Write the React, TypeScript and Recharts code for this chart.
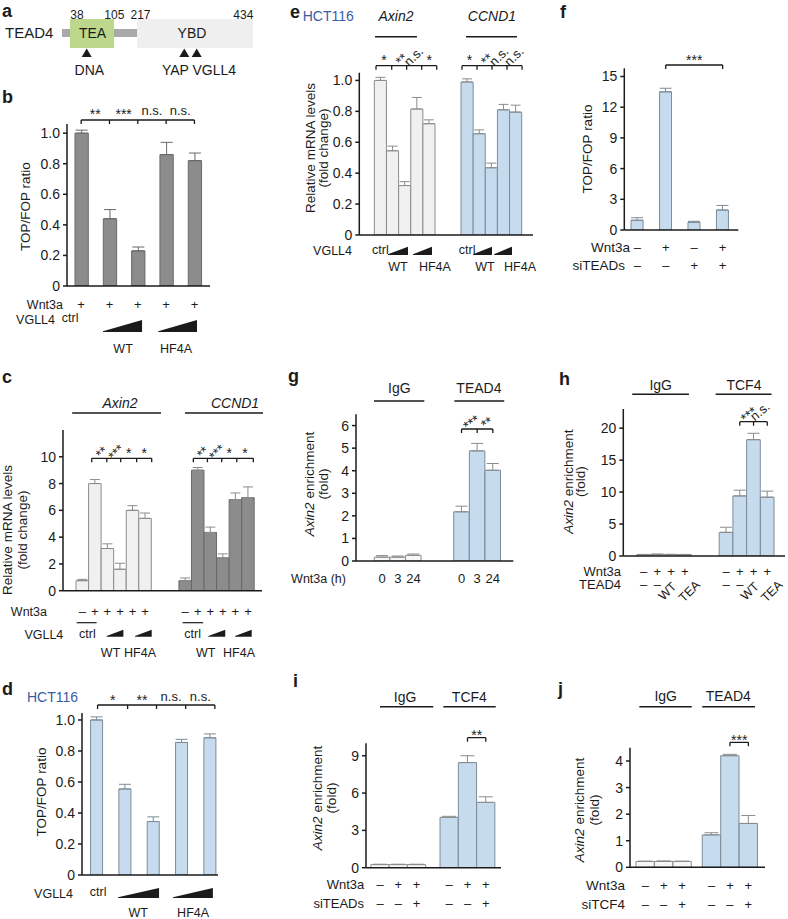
import React from 'react';
import { BarChart, Bar, XAxis, YAxis, ErrorBar, Cell } from 'recharts';

const W = 788;
const H = 919;
const FONT = "'Liberation Sans', Arial, Helvetica, sans-serif";
const INK = '#1b1b1b';
const HCT = '#3b5ba5';
const TICK_FS = 14;
const LAB_FS = 13.5;
const ROW_FS = 12.5;
const HEAD_FS = 14;

// ---------------- data ----------------
// a
const aResidues = ['38', '105', '217', '434'];
const aDomains = ['TEA', 'YBD'];
// b
const bValues = [1.0, 0.44, 0.23, 0.86, 0.82];
const bErrors = [0.02, 0.06, 0.025, 0.08, 0.05];
const bWnt3a = ['+', '+', '+', '+', '+'];
const bSig = ['**', '***', 'n.s.', 'n.s.'];
// c
const cAxin2 = [0.75, 8.0, 3.15, 1.6, 6.0, 5.4];
const cAxin2Err = [0.1, 0.3, 0.35, 0.45, 0.35, 0.4];
const cCcnd1 = [0.75, 9.0, 4.35, 2.45, 6.8, 6.95];
const cCcnd1Err = [0.2, 0.2, 0.4, 0.3, 0.5, 0.8];
const cWnt3a = ['–', '+', '+', '+', '+', '+'];
const cSig = ['**', '***', '*', '*'];
// d
const dValues = [1.0, 0.555, 0.345, 0.855, 0.885];
const dErrors = [0.02, 0.03, 0.03, 0.02, 0.025];
const dSig = ['*', '**', 'n.s.', 'n.s.'];
// e
const eAxin2 = [1.0, 0.545, 0.32, 0.815, 0.72];
const eAxin2Err = [0.02, 0.03, 0.025, 0.075, 0.025];
const eCcnd1 = [0.99, 0.655, 0.435, 0.81, 0.795];
const eCcnd1Err = [0.02, 0.025, 0.03, 0.035, 0.045];
const eAxin2Sig = ['*', '**', 'n.s.', '*'];
const eCcnd1Sig = ['*', '**', 'n.s.', 'n.s.'];
// f
const fValues = [0.95, 13.5, 0.75, 1.95];
const fErrors = [0.25, 0.35, 0.1, 0.45];
const fWnt3a = ['–', '+', '–', '+'];
const fSiTEADs = ['–', '–', '+', '+'];
const fSig = ['***'];
// g
const gIgG = [0.17, 0.17, 0.25];
const gIgGErr = [0.07, 0.05, 0.06];
const gTEAD4 = [2.18, 4.88, 4.02];
const gTEAD4Err = [0.25, 0.33, 0.3];
const gHours = ['0', '3', '24'];
const gSig = ['***', '**'];
// h
const hIgG = [0.2, 0.25, 0.22, 0.2];
const hIgGErr = [0.05, 0.05, 0.05, 0.05];
const hTCF4 = [3.7, 9.4, 18.2, 9.2];
const hTCF4Err = [0.8, 0.9, 1.0, 0.95];
const hWnt3a = ['–', '+', '+', '+'];
const hTEAD4 = ['–', '–', 'WT', 'TEA'];
const hSig = ['***', 'n.s.'];
// i
const iIgG = [0.25, 0.25, 0.25];
const iIgGErr = [0.03, 0.03, 0.03];
const iTCF4 = [4.05, 8.45, 5.25];
const iTCF4Err = [0.08, 0.55, 0.45];
const iWnt3a = ['–', '+', '+'];
const iSiTEADs = ['–', '–', '+'];
const iSig = ['**'];
// j
const jIgG = [0.22, 0.22, 0.22];
const jIgGErr = [0.01, 0.02, 0.01];
const jTEAD4 = [1.22, 4.2, 1.65];
const jTEAD4Err = [0.08, 0.05, 0.3];
const jWnt3a = ['–', '+', '+'];
const jSiTCF4 = ['–', '–', '+'];
const jSig = ['***'];

const ratioTicks = [0, 0.2, 0.4, 0.6, 0.8, 1.0];
const f1 = (v: number) => (v === 0 ? '0' : v.toFixed(1));

// ---------------- styles ----------------
type Look = { fill: string; stroke: string; err: string };
const DARK: Look = { fill: '#8c8c8c', stroke: '#696969', err: '#696969' };
const LIGHT: Look = { fill: '#f0f0f0', stroke: '#8c8c8c', err: '#8c8c8c' };
const BLUE: Look = { fill: '#c6dcee', stroke: '#7e8b96', err: '#7e8b96' };
const WHITE: Look = { fill: '#f7f7f7', stroke: '#8c8c8c', err: '#8c8c8c' };

type Group = { values: number[]; errors: number[]; start: number; look: Look };
type Spec = {
  x0: number; x1: number; y0: number; yTop: number;
  xDom: [number, number]; yMax: number; yTicks: number[];
  fmt?: (v: number) => string; xTicks: number[]; barSize: number; capW: number;
  groups: Group[];
};

const specB: Spec = { x0: 67, x1: 210, y0: 286, yTop: 124, xDom: [0.5, 5.55], yMax: 1.06, yTicks: ratioTicks, fmt: f1, xTicks: [1.5, 2.5, 3.5, 4.5], barSize: 13.3, capW: 6,
  groups: [{ values: bValues, errors: bErrors, start: 1, look: DARK }] };
const specC: Spec = { x0: 63, x1: 262, y0: 590.7, yTop: 430, xDom: [-0.54, 15.32], yMax: 12, yTicks: [0, 2, 4, 6, 8, 10], xTicks: [7.6], barSize: 12.5, capW: 5,
  groups: [{ values: cAxin2, errors: cAxin2Err, start: 1, look: LIGHT }, { values: cCcnd1, errors: cCcnd1Err, start: 9.2, look: DARK }] };
const specD: Spec = { x0: 82, x1: 218, y0: 875, yTop: 713, xDom: [0.48, 5.28], yMax: 1.045, yTicks: ratioTicks, fmt: f1, xTicks: [1.5, 2.5, 3.5, 4.5], barSize: 12, capW: 6,
  groups: [{ values: dValues, errors: dErrors, start: 1, look: BLUE }] };
const specE: Spec = { x0: 359.3, x1: 533, y0: 235, yTop: 72.7, xDom: [-0.74, 13.57], yMax: 1.05, yTicks: ratioTicks, fmt: f1, xTicks: [6.6], barSize: 12.1, capW: 5,
  groups: [{ values: eAxin2, errors: eAxin2Err, start: 1, look: LIGHT }, { values: eCcnd1, errors: eCcnd1Err, start: 8.14, look: BLUE }] };
const specF: Spec = { x0: 624.3, x1: 738.3, y0: 230, yTop: 68.3, xDom: [0.543, 4.55], yMax: 15.8, yTicks: [0, 3, 6, 9, 12, 15], xTicks: [1.5, 2.5, 3.5], barSize: 12, capW: 6,
  groups: [{ values: fValues, errors: fErrors, start: 1, look: BLUE }] };
const specG: Spec = { x0: 356, x1: 513.3, y0: 561, yTop: 414.3, xDom: [-0.67, 9.39], yMax: 6.5, yTicks: [0, 1, 2, 3, 4, 5, 6], xTicks: [4.54], barSize: 15.5, capW: 6,
  groups: [{ values: gIgG, errors: gIgGErr, start: 1, look: WHITE }, { values: gTEAD4, errors: gTEAD4Err, start: 6.08, look: BLUE }] };
const specH: Spec = { x0: 623.3, x1: 785, y0: 556, yTop: 409, xDom: [-0.48, 11.29], yMax: 23, yTicks: [0, 5, 10, 15, 20], xTicks: [5.5], barSize: 13.6, capW: 6,
  groups: [{ values: hIgG, errors: hIgGErr, start: 1, look: WHITE }, { values: hTCF4, errors: hTCF4Err, start: 7, look: BLUE }] };
const specI: Spec = { x0: 366, x1: 501, y0: 867.7, yTop: 743.3, xDom: [0.235, 7.61], yMax: 10, yTicks: [0, 3, 6, 9], xTicks: [3.89], barSize: 18.2, capW: 7,
  groups: [{ values: iIgG, errors: iIgGErr, start: 1, look: WHITE }, { values: iTCF4, errors: iTCF4Err, start: 4.78, look: BLUE }] };
const specJ: Spec = { x0: 630, x1: 765, y0: 867.3, yTop: 747.7, xDom: [0.174, 7.49], yMax: 4.5, yTicks: [0, 1, 2, 3, 4], xTicks: [3.8], barSize: 18.3, capW: 7,
  groups: [{ values: jIgG, errors: jIgGErr, start: 1, look: WHITE }, { values: jTEAD4, errors: jTEAD4Err, start: 4.59, look: BLUE }] };

const mapper = (s: Spec) => ({
  px: (x: number) => s.x0 + ((x - s.xDom[0]) / (s.xDom[1] - s.xDom[0])) * (s.x1 - s.x0),
  py: (v: number) => s.y0 - (v / s.yMax) * (s.y0 - s.yTop),
});
type M = ReturnType<typeof mapper>;

function Chart({ s }: { s: Spec }) {
  const data = s.groups.flatMap((g) =>
    g.values.map((v, i) => ({ x: g.start + i, v, e: [0, g.errors[i]], look: g.look }))
  );
  const yw = 44;
  const xh = 10;
  const margin = { top: s.yTop, right: W - s.x1, bottom: H - s.y0 - xh, left: s.x0 - yw };
  const axisStyle = { stroke: INK, strokeWidth: 1.5 };
  return (
    <div style={{ position: 'absolute', left: 0, top: 0, width: W, height: H }}>
      <BarChart width={W} height={H} data={data} margin={margin} barGap={0}>
        <XAxis type="number" dataKey="x" domain={s.xDom} allowDataOverflow ticks={s.xTicks} interval={0}
          tick={false} tickSize={4} height={xh} axisLine={axisStyle} tickLine={axisStyle} />
        <YAxis type="number" domain={[0, s.yMax]} allowDataOverflow ticks={s.yTicks} interval={0} width={yw}
          tickSize={4} tickMargin={3} tickFormatter={s.fmt}
          tick={{ fontSize: TICK_FS, fill: INK, fontFamily: FONT }} axisLine={axisStyle} tickLine={axisStyle} />
        <Bar dataKey="v" barSize={s.barSize} isAnimationActive={false}>
          {data.map((d, i) => (
            <Cell key={i} fill={d.look.fill} stroke={d.look.stroke} strokeWidth={1} />
          ))}
          <ErrorBar dataKey="e" width={s.capW} stroke={s.groups[0].look.err} strokeWidth={1} direction="y" />
        </Bar>
      </BarChart>
    </div>
  );
}

// ---------------- annotation helpers ----------------
function Txt({ x, y, s, size = ROW_FS, anchor = 'middle', italic = false, bold = false, fill = INK, rot = 0, dy, children }: any) {
  const content = children ?? s;
  let d = dy;
  if (d === undefined) {
    const str = typeof content === 'string' ? content : '';
    d = /^\*+$/.test(str) ? 0.6 : /^[a-z.]+$/.test(str) ? 0.27 : 0.36;
  }
  return (
    <text transform={`translate(${x} ${y}) rotate(${rot})`} dy={d * size} textAnchor={anchor} fontSize={size}
      fontFamily={FONT} fontStyle={italic ? 'italic' : 'normal'} fontWeight={bold ? 'bold' : 'normal'} fill={fill}>
      {content}
    </text>
  );
}

function Letter({ x, y, s }: { x: number; y: number; s: string }) {
  return <Txt x={x} y={y} s={s} size={18} bold anchor="start" dy={0} />;
}

function Bracket({ m, xs, y, drop = 4 }: { m: M; xs: number[]; y: number; drop?: number }) {
  const d = `M${m.px(xs[0])},${y}H${m.px(xs[xs.length - 1])}` + xs.map((x) => `M${m.px(x)},${y}V${y + drop}`).join('');
  return <path d={d} stroke={INK} strokeWidth={1.3} fill="none" />;
}

function Wedge({ m, a, b, yb, h }: { m: M; a: number; b: number; yb: number; h: number }) {
  const x0 = m.px(a);
  const x1 = m.px(b);
  return <polygon points={`${x0},${yb} ${x1},${yb} ${x1},${yb - h} ${x0},${yb - 0.8}`} fill={INK} />;
}

function Header({ m, c, a, b, ty, ly, s, italic = false }: { m: M; c: number; a: number; b: number; ty: number; ly: number; s: string; italic?: boolean }) {
  return (
    <g>
      <Txt x={m.px(c)} y={ty} s={s} size={HEAD_FS} italic={italic} />
      <line x1={m.px(a)} x2={m.px(b)} y1={ly} y2={ly} stroke={INK} strokeWidth={1.6} />
    </g>
  );
}

function Sig({ m, xs, y, labels, rotMulti = 0 }: { m: M; xs: number[]; y: number; labels: string[]; rotMulti?: number }) {
  return (
    <g>
      {labels.map((s, i) => {
        const cx = m.px((xs[i] + xs[i + 1]) / 2);
        const rot = s === '*' ? 0 : rotMulti;
        return <Txt key={i} x={cx} y={y} s={s} size={s.includes('*') ? 14 : 13} rot={rot} />;
      })}
    </g>
  );
}

function Row({ m, groups, y, marks }: { m: M; groups: number[]; y: number; marks: string[] }) {
  return (
    <g>
      {groups.flatMap((start, gi) =>
        marks.map((s, i) => <Txt key={`${gi}-${i}`} x={m.px(start + i)} y={y} s={s} size={13} />)
      )}
    </g>
  );
}

function EnrichLabel({ x1, x2, y }: { x1: number; x2: number; y: number }) {
  return (
    <g>
      <Txt x={x1} y={y} rot={-90} size={LAB_FS}>
        <tspan fontStyle="italic">Axin2</tspan> enrichment
      </Txt>
      <Txt x={x2} y={y} rot={-90} size={LAB_FS} s="(fold)" dy={0.36} />
    </g>
  );
}

function Annotations() {
  const mb = mapper(specB);
  const mc = mapper(specC);
  const md = mapper(specD);
  const me = mapper(specE);
  const mf = mapper(specF);
  const mg = mapper(specG);
  const mh = mapper(specH);
  const mi = mapper(specI);
  const mj = mapper(specJ);
  return (
    <svg width={W} height={H} style={{ position: 'absolute', left: 0, top: 0 }}>
      {/* ---------- a ---------- */}
      <Letter x={2} y={16.7} s="a" />
      <Txt x={5} y={32.5} s="TEAD4" size={15} anchor="start" />
      <rect x={62} y={29} width={75} height={8} fill="#a9a9a9" />
      <rect x={70} y={19} width={44} height={29} fill="#bdd88c" />
      <rect x={137} y={19} width={116} height={29} fill="#efefef" />
      <Txt x={92.5} y={33} s={aDomains[0]} size={14} />
      <Txt x={192} y={33} s={aDomains[1]} size={14} />
      <Txt x={77} y={15} s={aResidues[0]} size={12} />
      <Txt x={114.3} y={15} s={aResidues[1]} size={12} />
      <Txt x={140.5} y={15} s={aResidues[2]} size={12} />
      <Txt x={243.3} y={15} s={aResidues[3]} size={12} />
      {[86.7, 184.3, 196.7].map((x, i) => (
        <polygon key={i} points={`${x},48.5 ${x - 5},57 ${x + 5},57`} fill={INK} />
      ))}
      <Txt x={89.3} y={70} s="DNA" size={14} />
      <Txt x={199} y={70} s="YAP VGLL4" size={14} />

      {/* ---------- b ---------- */}
      <Letter x={2} y={103.3} s="b" />
      <Bracket m={mb} xs={[1, 2, 3, 4, 5]} y={120} />
      <Sig m={mb} xs={[1, 2, 3, 4, 5]} y={111} labels={bSig} />
      <Txt x={25} y={206.7} s="TOP/FOP ratio" rot={-90} size={LAB_FS} />
      <Txt x={specB.x0 - 4} y={304} s="Wnt3a" anchor="end" />
      <Row m={mb} groups={[1]} y={304} marks={bWnt3a} />
      <Txt x={55} y={319} s="VGLL4" anchor="end" />
      <Txt x={mb.px(1) - 11} y={319} s="ctrl" />
      <Wedge m={mb} a={1.77} b={3.15} yb={332} h={12} />
      <Wedge m={mb} a={3.72} b={5.09} yb={332} h={12} />
      <Txt x={mb.px(2.48)} y={348} s="WT" />
      <Txt x={mb.px(4.35)} y={348} s="HF4A" />

      {/* ---------- c ---------- */}
      <Letter x={2} y={383.3} s="c" />
      <Header m={mc} c={4.0} a={0.19} b={7.27} ty={403} ly={413} s="Axin2" italic />
      <Header m={mc} c={13.17} a={9.18} b={15.4} ty={403} ly={413} s="CCND1" italic />
      <Bracket m={mc} xs={[1.75, 2.95, 4.06, 5.33, 6.53]} y={458.3} />
      <Bracket m={mc} xs={[9.85, 10.97, 12.11, 13.31, 14.63]} y={458.3} />
      <Sig m={mc} xs={[1.75, 2.95, 4.06, 5.33, 6.53]} y={450} labels={cSig} rotMulti={-45} />
      <Sig m={mc} xs={[9.85, 10.97, 12.11, 13.31, 14.63]} y={450} labels={cSig} rotMulti={-45} />
      <Txt x={7.5} y={530} s="Relative mRNA levels" rot={-90} size={LAB_FS} />
      <Txt x={22} y={530} s="(fold change)" rot={-90} size={LAB_FS} dy={0.36} />
      <Txt x={47} y={611.7} s="Wnt3a" anchor="end" />
      <Row m={mc} groups={[1, 9.2]} y={611.7} marks={cWnt3a} />
      <line x1={mc.px(0.55)} x2={mc.px(2.14)} y1={622.7} y2={622.7} stroke={INK} strokeWidth={1.2} />
      <line x1={mc.px(8.99)} x2={mc.px(10.63)} y1={622.7} y2={622.7} stroke={INK} strokeWidth={1.2} />
      <Txt x={63.3} y={634.3} s="VGLL4" anchor="end" />
      <Txt x={mc.px(1.4)} y={634.3} s="ctrl" />
      <Txt x={mc.px(9.79)} y={634.3} s="ctrl" />
      <Wedge m={mc} a={2.94} b={4.27} yb={636.7} h={7} />
      <Wedge m={mc} a={5.2} b={6.53} yb={636.7} h={7} />
      <Wedge m={mc} a={11.04} b={12.39} yb={636.7} h={7} />
      <Wedge m={mc} a={13.17} b={14.5} yb={636.7} h={7} />
      <Txt x={mc.px(3.25)} y={652.7} s="WT" />
      <Txt x={mc.px(5.6)} y={652.7} s="HF4A" />
      <Txt x={mc.px(10.84)} y={652.7} s="WT" />
      <Txt x={mc.px(13.49)} y={652.7} s="HF4A" />

      {/* ---------- d ---------- */}
      <Letter x={2} y={695} s="d" />
      <Txt x={52.5} y={697} s="HCT116" size={14} fill={HCT} />
      <Bracket m={md} xs={[1.03, 2.09, 3.11, 4.14, 5.17]} y={705} />
      <Sig m={md} xs={[1.03, 2.09, 3.11, 4.14, 5.17]} y={697} labels={dSig} />
      <Txt x={41} y={792} s="TOP/FOP ratio" rot={-90} size={LAB_FS} />
      <Txt x={73} y={893} s="VGLL4" anchor="end" />
      <Txt x={md.px(1.05)} y={893} s="ctrl" />
      <Wedge m={md} a={1.75} b={3.2} yb={898} h={10} />
      <Wedge m={md} a={3.69} b={5.1} yb={898} h={10} />
      <Txt x={md.px(2.46)} y={912} s="WT" />
      <Txt x={md.px(4.4)} y={912} s="HF4A" />

      {/* ---------- e ---------- */}
      <Letter x={290} y={18.3} s="e" />
      <Txt x={328.3} y={15.8} s="HCT116" size={14} fill={HCT} />
      <Header m={me} c={2.28} a={0.55} b={4.01} ty={16} ly={36.7} s="Axin2" italic />
      <Header m={me} c={10.19} a={8.05} b={12.25} ty={16} ly={36.7} s="CCND1" italic />
      <Bracket m={me} xs={[0.636, 1.93, 3.16, 4.4, 5.64]} y={65.7} />
      <Bracket m={me} xs={[7.72, 8.96, 10.19, 11.43, 12.67]} y={65.7} />
      <Sig m={me} xs={[0.636, 1.93, 3.16, 4.4, 5.64]} y={57} labels={eAxin2Sig} rotMulti={-45} />
      <Sig m={me} xs={[7.72, 8.96, 10.19, 11.43, 12.67]} y={57} labels={eCcnd1Sig} rotMulti={-45} />
      <Txt x={310} y={148} s="Relative mRNA levels" rot={-90} size={LAB_FS} />
      <Txt x={323.3} y={148} s="(fold change)" rot={-90} size={LAB_FS} dy={0.36} />
      <Txt x={352} y={250.7} s="VGLL4" anchor="end" />
      <Txt x={me.px(1)} y={250.7} s="ctrl" />
      <Txt x={me.px(8.14)} y={250.7} s="ctrl" />
      <Wedge m={me} a={1.62} b={3.27} yb={255} h={8.3} />
      <Wedge m={me} a={3.68} b={5.25} yb={255} h={8.3} />
      <Wedge m={me} a={8.63} b={10.19} yb={255} h={8.3} />
      <Wedge m={me} a={10.36} b={11.84} yb={255} h={8.3} />
      <Txt x={me.px(2.45)} y={266.7} s="WT" />
      <Txt x={me.px(5.49)} y={266.7} s="HF4A" />
      <Txt x={me.px(9.61)} y={266.7} s="WT" />
      <Txt x={me.px(12.5)} y={266.7} s="HF4A" />

      {/* ---------- f ---------- */}
      <Letter x={560} y={18.3} s="f" />
      <Bracket m={mf} xs={[2, 4]} y={65} />
      <Sig m={mf} xs={[2, 4]} y={56.7} labels={fSig} />
      <Txt x={587.3} y={149} s="TOP/FOP ratio" rot={-90} size={LAB_FS} />
      <Txt x={630} y={247.3} s="Wnt3a" anchor="end" size={13.5} />
      <Row m={mf} groups={[1]} y={247.3} marks={fWnt3a} />
      <Txt x={625} y={265} s="siTEADs" anchor="end" size={13.5} />
      <Row m={mf} groups={[1]} y={265} marks={fSiTEADs} />

      {/* ---------- g ---------- */}
      <Letter x={288} y={381.5} s="g" />
      <Header m={mg} c={2.1} a={0.48} b={3.7} ty={388} ly={401} s="IgG" />
      <Header m={mg} c={7.19} a={5.62} b={8.81} ty={388} ly={401} s="TEAD4" />
      <Bracket m={mg} xs={[6.08, 7.08, 8.08]} y={429} />
      <Sig m={mg} xs={[6.08, 7.08, 8.08]} y={420} labels={gSig} rotMulti={-35} />
      <EnrichLabel x1={309.3} x2={322.7} y={484} />
      <Txt x={346} y={578.3} s="Wnt3a (h)" anchor="end" />
      <Row m={mg} groups={[1, 6.08]} y={578.3} marks={gHours} />

      {/* ---------- h ---------- */}
      <Letter x={559} y={385} s="h" />
      <Header m={mh} c={2.24} a={0.17} b={4.3} ty={385} ly={394.3} s="IgG" />
      <Header m={mh} c={8.3} a={6.24} b={10.31} ty={385} ly={394.3} s="TCF4" />
      <Bracket m={mh} xs={[8, 9, 10]} y={421.7} />
      <Sig m={mh} xs={[8, 9, 10]} y={412} labels={hSig} rotMulti={-40} />
      <EnrichLabel x1={568} x2={580} y={481.7} />
      <Txt x={621} y={571} s="Wnt3a" anchor="end" size={13} />
      <Row m={mh} groups={[1, 7]} y={571} marks={hWnt3a} />
      <Txt x={621} y={584} s="TEAD4" anchor="end" size={13} />
      {[1, 7].flatMap((start, gi) =>
        hTEAD4.map((s, i) =>
          s.length > 1 ? (
            <Txt key={`${gi}-${i}`} x={mh.px(start + i) + (s === 'WT' ? -4 : 4.3)} y={591} s={s} size={12.5} rot={-45} />
          ) : (
            <Txt key={`${gi}-${i}`} x={mh.px(start + i)} y={584} s={s} size={13} />
          )
        )
      )}

      {/* ---------- i ---------- */}
      <Letter x={293} y={686.7} s="i" />
      <Header m={mi} c={2.37} a={1.0} b={3.91} ty={696.7} ly={706.7} s="IgG" />
      <Header m={mi} c={5.88} a={4.46} b={7.32} ty={696.7} ly={706.7} s="TCF4" />
      <Bracket m={mi} xs={[5.78, 6.78]} y={737.7} />
      <Sig m={mi} xs={[5.78, 6.78]} y={732} labels={iSig} />
      <EnrichLabel x1={317.5} x2={331} y={798} />
      <Txt x={364.3} y={884.3} s="Wnt3a" anchor="end" size={13} />
      <Row m={mi} groups={[1, 4.78]} y={884.3} marks={iWnt3a} />
      <Txt x={364} y={903.3} s="siTEADs" anchor="end" size={13} />
      <Row m={mi} groups={[1, 4.78]} y={903.3} marks={iSiTEADs} />

      {/* ---------- j ---------- */}
      <Letter x={558} y={695} s="j" />
      <Header m={mj} c={2.11} a={0.68} b={3.52} ty={696} ly={706.7} s="IgG" />
      <Header m={mj} c={5.5} a={4.09} b={6.95} ty={696} ly={706.7} s="TEAD4" />
      <Bracket m={mj} xs={[5.59, 6.59]} y={742.3} />
      <Sig m={mj} xs={[5.59, 6.59]} y={736.7} labels={jSig} />
      <EnrichLabel x1={579.2} x2={594} y={810} />
      <Txt x={625} y={885} s="Wnt3a" anchor="end" size={13.5} />
      <Row m={mj} groups={[1, 4.59]} y={885} marks={jWnt3a} />
      <Txt x={625} y={904} s="siTCF4" anchor="end" size={13.5} />
      <Row m={mj} groups={[1, 4.59]} y={904} marks={jSiTCF4} />
    </svg>
  );
}

export default function App() {
  const specs = [specB, specC, specD, specE, specF, specG, specH, specI, specJ];
  return (
    <div style={{ position: 'absolute', left: 0, top: 0, width: W, height: H, background: '#fff', overflow: 'hidden', fontFamily: FONT }}>
      {specs.map((s, i) => (
        <Chart key={i} s={s} />
      ))}
      <Annotations />
    </div>
  );
}
